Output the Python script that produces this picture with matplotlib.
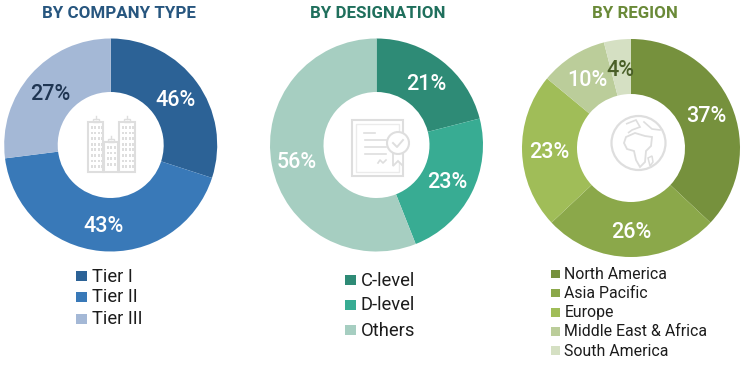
import matplotlib
matplotlib.use("Agg")
import matplotlib.pyplot as plt
from matplotlib.patches import Rectangle, Circle, Polygon

W, H = 750, 365
FONT = ["Roboto", "DejaVu Sans"]

# Wedge shares and the printed labels (the printed labels do not sum to 100 in the source)
type_names = ["Tier I", "Tier II", "Tier III"]
type_shares = [30, 43, 27]
type_labels = ["46%", "43%", "27%"]
type_colors = ["#2C6296", "#3979B8", "#A4B8D6"]
type_label_colors = ["white", "white", "#1F3552"]

desig_names = ["C-level", "D-level", "Others"]
desig_shares = [21, 23, 56]
desig_labels = ["21%", "23%", "56%"]
desig_colors = ["#2E8B76", "#38AC93", "#A6CEC1"]
desig_label_colors = ["white", "white", "white"]

region_names = ["North America", "Asia Pacific", "Europe", "Middle East & Africa", "South America"]
region_shares = [37, 26, 23, 10, 4]
region_labels = ["37%", "26%", "23%", "10%", "4%"]
region_colors = ["#76913D", "#8BA84A", "#A0BD58", "#BBCD9A", "#D5E0C3"]
region_label_colors = ["white", "white", "white", "white", "#4A5F28"]

fig = plt.figure(figsize=(W / 100, H / 100), dpi=100, facecolor="white")
ov = fig.add_axes([0, 0, 1, 1], zorder=5)
ov.set_xlim(0, W)
ov.set_ylim(H, 0)
ov.axis("off")
ov.patch.set_alpha(0)


def donut(cx, cy, r, r_in, shares, colors):
    ax = fig.add_axes([(cx - r) / W, 1 - (cy + r) / H, 2 * r / W, 2 * r / H], zorder=1)
    ax.pie(shares, colors=colors, startangle=90, counterclock=False, radius=1.0,
           wedgeprops=dict(width=1 - r_in / r, linewidth=0))
    ax.set_xlim(-1, 1)
    ax.set_ylim(-1, 1)
    ax.set_aspect("auto")
    ax.axis("off")


def labels(texts, colors, pos, size=15.5):
    for t, c, (x, y) in zip(texts, colors, pos):
        ov.text(x, y, t, color=c, fontsize=size, family=FONT, weight="medium", ha="center", va="center")


def legend(names, colors, x, ys, box, size):
    for n, c, y in zip(names, colors, ys):
        ov.add_patch(Rectangle((x, y - box / 2), box, box, fc=c, lw=0))
        ov.text(x + box + 5, y + 0.5, n, color="#1C1C1C", fontsize=size, family=FONT, ha="left", va="center")


def title(t, x, c):
    ov.text(x, 13.5, t, color=c, fontsize=12.2, family=FONT, weight="bold", ha="center", va="center")


title("BY COMPANY TYPE", 119, "#27567F")
title("BY DESIGNATION", 378, "#1F6F5C")
title("BY REGION", 635, "#6A8A38")

donut(110.7, 145, 106.5, 53, type_shares, type_colors)
donut(376.5, 145, 106.5, 53, desig_shares, desig_colors)
donut(631, 148, 109, 54, region_shares, region_colors)

labels(type_labels, type_label_colors, [(175, 100), (103, 226), (50, 94)])
labels(desig_labels, desig_label_colors, [(426, 84), (447, 183), (297, 162)])
labels(region_labels, region_label_colors, [(706, 117), (631, 232), (549, 153), (587, 81), (620, 70)])

legend(type_names, type_colors, 76, [276, 297, 319], 10.5, 13.2)
legend(desig_names, desig_colors, 345, [280, 305, 330], 10.5, 13.2)
legend(region_names, region_colors, 551, [274, 293, 312.5, 331.5, 350.5], 8.5, 11.4)

# Centre icons
G = "#DEDEDE"
for x0, x1, y0 in [(88, 103, 122), (104, 118, 142), (119, 135, 122)]:
    ov.add_patch(Rectangle((x0, y0), x1 - x0, 172 - y0, fc="none", ec=G, lw=1.5))
    ov.add_patch(Rectangle(((x0 + x1) / 2 - 3, y0 - 3), 6, 3, fc="none", ec=G, lw=1))
    ov.plot([(x0 + x1) / 2] * 2, [y0 - 6, y0 - 3], color=G, lw=1)
    y = y0 + 4
    while y < 168:
        x = x0 + 3
        while x < x1 - 1:
            ov.add_patch(Rectangle((x, y), 1.8, 2.8, fc=G, lw=0))
            x += 3.4
        y += 5.6

ov.add_patch(Rectangle((352, 120), 51, 56, fc="none", ec=G, lw=1.5))
ov.add_patch(Rectangle((356, 124), 43, 48, fc="none", ec="#EBEBEB", lw=1))
ov.plot([364, 375], [133, 133], color=G, lw=1.2)
for yy, x1 in [(140, 386), (147, 386), (154, 386)]:
    ov.plot([365, x1], [yy, yy], color=G, lw=1.2)
ov.plot([378, 380, 383, 386], [163, 160, 163, 160], color=G, lw=1.2)
ov.add_patch(Polygon([(393, 150), (393, 166), (398, 161), (403, 166), (403, 150)], closed=False, fc="white", ec=G, lw=1.3))
ov.add_patch(Circle((398, 143), 11, fc="white", ec=G, lw=1.5))
ov.plot([393, 397, 403], [143, 147, 140], color=G, lw=1.4)

ov.add_patch(Circle((638.5, 143), 27, fc="none", ec=G, lw=1.6))
ov.add_patch(Polygon([(626, 137), (635, 133), (645, 136), (652, 137), (651, 146), (646, 151), (645, 162), (640, 167),
                      (636, 160), (634, 151), (627, 149), (624, 143)], closed=True, fc="none", ec=G, lw=1.3))
ov.add_patch(Polygon([(626, 124), (636, 120), (640, 127), (632, 130), (628, 133)], closed=False, fc="none", ec=G, lw=1.2))
ov.add_patch(Polygon([(648, 158), (652, 156), (653, 162), (650, 166)], closed=True, fc="none", ec=G, lw=1.1))
ov.plot([644, 652, 660], [122, 129, 130], color=G, lw=1.2)

fig.savefig("out.png", dpi=100, facecolor="white")
